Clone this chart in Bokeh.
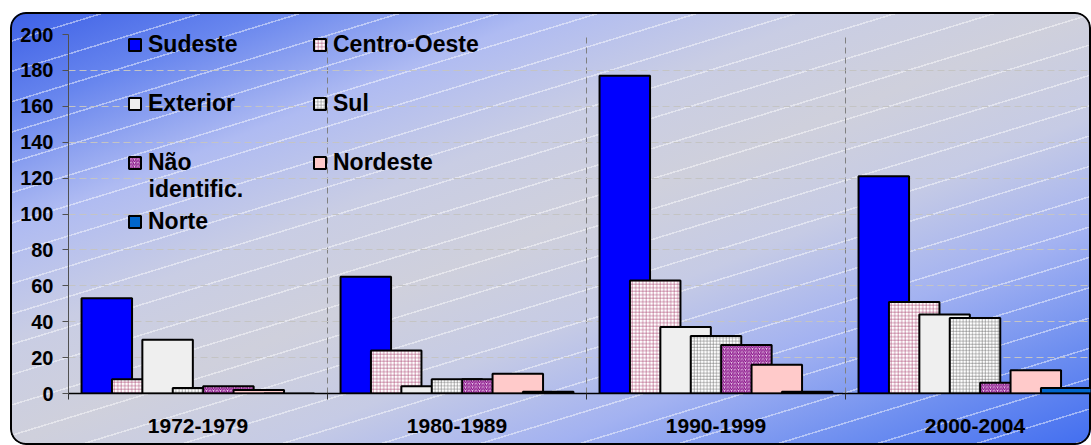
import numpy as np
from bokeh.plotting import figure
from bokeh.models import (ColumnDataSource, Range1d, FixedTicker, Legend, LegendItem, Label)
from bokeh.transform import dodge
from bokeh.embed import file_html
from bokeh.resources import INLINE

# ---------------- data ----------------
periods = ["1972-1979", "1980-1989", "1990-1999", "2000-2004"]
sudeste = [53, 65, 177, 121]
centro_oeste = [8, 24, 63, 51]
exterior = [30, 4, 37, 44]
sul = [3, 8, 32, 42]
nao_identific = [4, 8, 27, 6]
nordeste = [2, 11, 16, 13]
norte = [0, 1, 1, 3]
y_ticks = [0, 20, 40, 60, 80, 100, 120, 140, 160, 180, 200]

series = [
    ("Sudeste", "sudeste", sudeste),
    ("Centro-Oeste", "centro_oeste", centro_oeste),
    ("Exterior", "exterior", exterior),
    ("Sul", "sul", sul),
    ("Não identific.", "nao_identific", nao_identific),
    ("Nordeste", "nordeste", nordeste),
    ("Norte", "norte", norte),
]

# ---------------- styles ----------------
FONT = "Liberation Sans"
styles_bar = {
    "sudeste": dict(fill_color="#0000FF"),
    "centro_oeste": dict(fill_color="#FFFFFF", hatch_pattern="+", hatch_color="#B0507A",
                         hatch_scale=3.5, hatch_weight=0.6),
    "exterior": dict(fill_color="#EFEFEF"),
    "sul": dict(fill_color="#FFFFFF", hatch_pattern="+", hatch_color="#808080",
                hatch_scale=3.2, hatch_weight=0.6),
    "nao_identific": dict(fill_color="#E8C8E8", hatch_pattern="/", hatch_color="#800080",
                          hatch_scale=3.5, hatch_weight=1.0),
    "nordeste": dict(fill_color="#FFCACA"),
    "norte": dict(fill_color="#0066CC"),
}

centers = np.arange(len(periods)) + 0.5
data = dict(x=centers)
for _, key, vals in series:
    data[key] = vals
source = ColumnDataSource(data)

W, H = 1081, 433
LEFT, TOP, BOTTOM = 58, 22, 52
cat_px = 259.0
x_end = (W - LEFT) / cat_px

background = (
    "repeating-linear-gradient(163deg, rgba(255,255,255,0) 0px, rgba(255,255,255,0) 27.5px, "
    "rgba(255,255,255,0.45) 27.5px, rgba(255,255,255,0.45) 29px), "
    "linear-gradient(to bottom right, #3d60e6 0%, #6886ee 12%, #afbbf2 25%, #c9cde4 38%, "
    "#cfd0dc 50%, #c6cbe5 62%, #a3b2f1 75%, #6d8ef0 88%, #426ef0 100%)"
)

p = figure(width=W, height=H, x_range=Range1d(0, x_end), y_range=Range1d(0, 200),
           output_backend="svg", toolbar_location=None,
           min_border_left=LEFT, min_border_right=0, min_border_top=TOP,
           min_border_bottom=BOTTOM,
           background_fill_color=None, border_fill_color=None, outline_line_color=None,
           styles={"position": "relative", "left": "10px", "top": "12px",
                   "border-radius": "16px", "box-shadow": "inset 0 0 0 2px #000",
                   "background": background})

bar_w = 50.5 / cat_px
pitch = 30.4 / cat_px
renderers = {}
for i, (name, key, _) in enumerate(series):
    off = (i - 3) * pitch
    r = p.vbar(x=dodge("x", off), top=key, width=bar_w, bottom=0, source=source,
               line_color="#000000", line_width=2, **styles_bar[key])
    renderers[key] = r

# axes
xa = p.xaxis[0]
xa.ticker = FixedTicker(ticks=list(centers), minor_ticks=list(range(len(periods) + 1)))
xa.major_label_overrides = {float(c): lab for c, lab in zip(centers, periods)}
xa.major_tick_line_color = None
xa.major_tick_out = 0
xa.major_tick_in = 0
xa.minor_tick_in = 0
xa.minor_tick_out = 6
xa.minor_tick_line_color = "#303030"
xa.axis_line_color = "#000000"
xa.axis_line_width = 1.5
xa.major_label_standoff = 19
xa.major_label_text_font = FONT
xa.major_label_text_font_style = "bold"
xa.major_label_text_font_size = "21px"
xa.major_label_text_color = "#000000"

ya = p.yaxis[0]
ya.ticker = FixedTicker(ticks=y_ticks, minor_ticks=[])
ya.major_tick_out = 6
ya.major_tick_in = 0
ya.major_tick_line_color = "#505050"
ya.axis_line_color = "#505050"
ya.axis_line_width = 1
ya.major_label_standoff = 9
ya.major_label_text_font = FONT
ya.major_label_text_font_style = "bold"
ya.major_label_text_font_size = "20px"
ya.major_label_text_color = "#000000"

# grids
p.xgrid.ticker = FixedTicker(ticks=list(range(1, len(periods))))
p.xgrid.grid_line_color = "#808080"
p.xgrid.grid_line_dash = "6 4"
p.xgrid.grid_line_width = 1
p.ygrid.ticker = FixedTicker(ticks=y_ticks[1:])
p.ygrid.grid_line_color = "#c4c4c4"
p.ygrid.grid_line_dash = "7 4"
p.ygrid.grid_line_width = 1

# legends (two columns)
common = dict(orientation="vertical", glyph_width=15, glyph_height=15, label_standoff=6,
              label_height=30, spacing=29, padding=0, margin=0,
              border_line_color=None, background_fill_alpha=0,
              label_text_font=FONT, label_text_font_style="bold",
              label_text_font_size="23px", label_text_color="#000000")
col1 = ["sudeste", "exterior", "nao_identific", "norte"]
col2 = ["centro_oeste", "sul", "nordeste"]
label_for = {key: name for name, key, _ in series}
label_for["nao_identific"] = "Não"
leg1 = Legend(items=[LegendItem(label=label_for[k], renderers=[renderers[k]]) for k in col1],
              location=(59, 157), **common)
leg2 = Legend(items=[LegendItem(label=label_for[k], renderers=[renderers[k]]) for k in col2],
              location=(244, 216), **common)
p.add_layout(leg1, "center")
p.add_layout(leg2, "center")

p.add_layout(Label(x=80 / cat_px, y=(393.3 - 188) / 1.798, text="identific.",
                   text_font=FONT, text_font_style="bold", text_font_size="23px",
                   text_color="#000000", text_baseline="middle", text_align="left"))

open("out.html", "w").write(file_html(p, INLINE))
